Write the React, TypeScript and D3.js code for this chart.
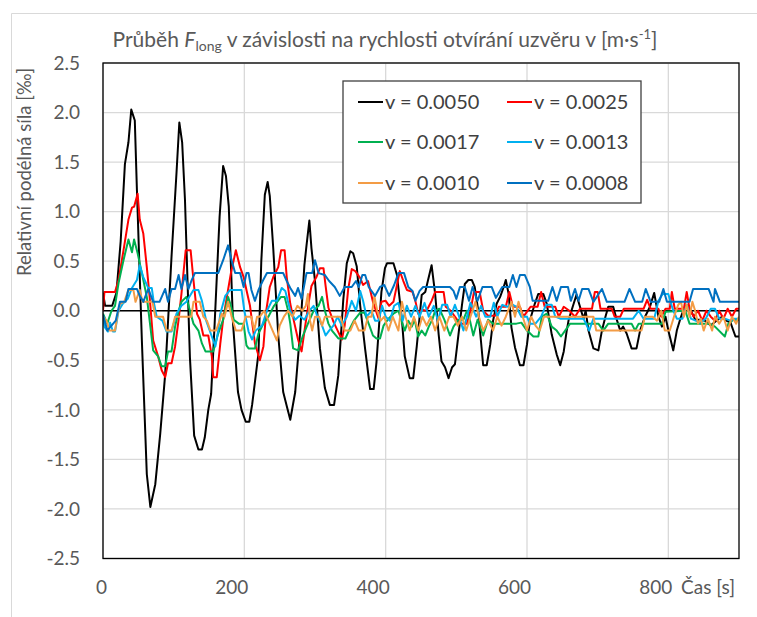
import React from "react";
import * as d3 from "d3";

const xTicks = [0, 200, 400, 600, 800];
const yTicks = [-2.5, -2.0, -1.5, -1.0, -0.5, 0.0, 0.5, 1.0, 1.5, 2.0, 2.5];
const seriesNames = ["v = 0.0050", "v = 0.0025", "v = 0.0017", "v = 0.0013", "v = 0.0010", "v = 0.0008"];
const seriesColors = ["#000000", "#ff0000", "#00b050", "#00b0f0", "#f39c45", "#0070c0"];

const s0050: [number, number][] = [[0,0.18],[3,0.05],[13,0.05],[19,0.18],[25,0.7],[31,1.48],[36,1.70],[40,2.03],[45,1.92],[48,1.22],[55,-0.3],[62,-1.65],[67,-1.98],[74,-1.75],[81,-1.24],[88,-0.64],[97,0.55],[104,1.39],[108,1.90],[112,1.70],[116,1.12],[123,-0.47],[129,-1.26],[135,-1.40],[140,-1.40],[144,-1.28],[149,-1.0],[153,-0.84],[158,-0.13],[165,0.95],[170,1.46],[174,1.36],[178,1.05],[184,-0.13],[191,-0.82],[196,-1.0],[202,-1.12],[207,-1.12],[211,-0.95],[220,-0.43],[224,0.5],[229,1.17],[233,1.30],[236,1.16],[241,0.62],[248,-0.25],[255,-0.82],[260,-0.96],[265,-1.10],[272,-0.82],[279,-0.21],[285,0.46],[288,0.66],[292,0.91],[295,0.63],[300,0.30],[307,-0.38],[314,-0.78],[321,-0.95],[327,-0.95],[333,-0.65],[340,0.11],[345,0.48],[350,0.60],[354,0.58],[359,0.45],[364,0.05],[371,-0.39],[378,-0.79],[383,-0.79],[387,-0.52],[394,0.19],[399,0.43],[402,0.48],[411,0.48],[416,0.36],[423,-0.09],[427,-0.46],[434,-0.68],[439,-0.68],[444,-0.36],[449,0.01],[451,0.16],[456,0.19],[460,0.31],[465,0.46],[470,0.17],[475,-0.24],[479,-0.51],[484,-0.57],[489,-0.68],[494,-0.57],[498,-0.54],[503,-0.24],[508,0.06],[512,0.27],[517,0.31],[522,0.31],[526,0.24],[531,0],[534,-0.24],[538,-0.55],[543,-0.55],[548,-0.34],[552,-0.1],[557,0.07],[562,0.14],[567,0.24],[570,0.31],[574,0.17],[578,-0.17],[583,-0.37],[590,-0.55],[595,-0.55],[600,-0.34],[604,-0.1],[611,0.07],[616,0.17],[623,0.17],[628,0.07],[635,-0.24],[642,-0.44],[647,-0.55],[652,-0.41],[656,-0.21],[659,-0.09],[666,0.07],[670,0.16],[675,0.04],[680,-0.08],[683,0.0],[687,-0.2],[694,-0.38],[701,-0.40],[706,-0.2],[711,-0.06],[715,0.04],[722,0.04],[727,-0.09],[732,-0.2],[736,-0.16],[741,-0.23],[748,-0.38],[755,-0.38],[760,-0.2],[767,-0.06],[774,0.04],[780,0.18],[786,-0.06],[791,-0.16],[796,-0.06],[800,-0.2],[807,-0.40],[812,-0.2],[817,-0.08],[821,0],[826,0.06],[832,0],[838,-0.09],[845,-0.09],[852,-0.1],[860,-0.15],[868,-0.1],[876,-0.06],[882,-0.1],[888,-0.12],[895,-0.26],[900,-0.26]];

const s0025: [number, number][] = [[0,0],[2,0.19],[17,0.19],[22,0.31],[29,0.61],[36,0.92],[41,1.04],[44,1.05],[49,1.18],[52,0.92],[57,0.78],[62,0.44],[66,0.14],[71,-0.30],[78,-0.46],[83,-0.60],[88,-0.67],[92,-0.53],[97,-0.53],[102,-0.36],[107,-0.09],[111,0.17],[117,0.61],[124,0.61],[128,0.31],[133,-0.03],[137,-0.09],[142,-0.25],[149,-0.25],[154,-0.46],[156,-0.67],[161,-0.67],[166,-0.33],[170,-0.09],[176,0.17],[181,0.38],[188,0.61],[194,0.44],[199,0.34],[203,0.21],[208,0.05],[215,-0.33],[222,-0.50],[227,-0.36],[231,0.0],[236,0.24],[241,0.34],[248,0.44],[252,0.61],[257,0.61],[260,0.34],[265,0.07],[270,-0.1],[276,-0.29],[281,-0.41],[286,-0.16],[291,0.08],[295,0.25],[302,0.34],[307,0.43],[312,0.43],[315,0.25],[319,0.03],[326,-0.11],[332,-0.2],[338,-0.29],[342,-0.15],[347,0.22],[352,0.42],[357,0.40],[364,0.33],[368,0.26],[375,0.30],[382,0.09],[390,-0.08],[394,0.09],[400,0.10],[405,0.05],[411,0.09],[416,0.26],[420,0.40],[425,0.30],[430,0.21],[438,0.19],[442,0.1],[446,-0.03],[451,0.01],[458,0.0],[465,0.1],[470,0.19],[482,0.19],[485,0.04],[492,0.0],[500,-0.08],[505,-0.13],[515,-0.13],[520,0.0],[525,0.19],[533,0.19],[538,0.0],[545,-0.05],[555,-0.05],[560,0.04],[570,0.04],[575,0.19],[580,0.04],[590,0.04],[595,-0.06],[605,0.04],[615,0.04],[620,0.19],[625,0.04],[640,0.04],[645,-0.06],[652,0.04],[660,0.0],[668,-0.06],[675,0.02],[692,0.02],[696,0.19],[700,0.19],[704,0.02],[720,0.02],[724,-0.06],[732,-0.06],[737,0.02],[765,0.02],[770,0.11],[775,0.02],[786,0.02],[790,-0.06],[796,0.02],[802,0.02],[805,0.19],[809,0.02],[822,0.02],[826,0.19],[830,0.02],[836,-0.06],[842,0.0],[848,-0.1],[854,0.0],[860,-0.06],[866,-0.1],[872,0.0],[878,-0.08],[884,0.02],[890,-0.06],[896,0.02],[900,0.02]];

const s0017: [number, number][] = [[0,-0.03],[6,-0.13],[12,0.0],[17,0.05],[22,0.28],[29,0.51],[36,0.72],[41,0.59],[44,0.72],[49,0.58],[55,0.38],[62,0.14],[66,-0.1],[71,-0.40],[78,-0.46],[83,-0.56],[88,-0.56],[92,-0.41],[97,-0.41],[102,-0.16],[107,0.0],[111,0.09],[118,0.14],[123,0.0],[128,-0.13],[135,-0.2],[140,-0.33],[145,-0.41],[156,-0.41],[163,-0.23],[170,-0.09],[177,0.14],[181,0.05],[185,-0.09],[192,-0.13],[199,-0.13],[203,-0.35],[206,-0.38],[215,-0.38],[220,-0.23],[227,-0.13],[234,-0.06],[242,0.05],[252,0.14],[257,0.14],[262,0.0],[265,-0.13],[269,-0.38],[276,-0.40],[283,-0.25],[290,-0.13],[298,0.0],[305,0.05],[310,0.14],[314,0.0],[319,-0.13],[324,-0.2],[333,-0.28],[343,-0.28],[348,-0.2],[355,-0.1],[364,-0.02],[370,-0.02],[377,-0.15],[382,-0.25],[387,-0.28],[392,-0.28],[397,-0.15],[404,-0.08],[411,-0.03],[418,0.0],[422,-0.09],[427,-0.2],[432,-0.1],[437,-0.16],[441,-0.09],[446,-0.26],[451,-0.2],[456,-0.25],[461,-0.16],[466,-0.09],[470,0.0],[476,0.02],[483,-0.09],[491,-0.25],[496,-0.16],[503,-0.09],[510,-0.09],[515,0.0],[519,-0.09],[524,-0.25],[530,-0.09],[538,-0.25],[545,-0.09],[552,-0.13],[585,-0.13],[592,-0.12],[600,-0.2],[609,-0.26],[616,-0.26],[621,-0.06],[628,-0.03],[635,-0.16],[642,-0.2],[648,-0.26],[654,-0.2],[661,-0.13],[701,-0.13],[708,-0.2],[715,-0.13],[748,-0.13],[753,-0.2],[758,-0.13],[791,-0.13],[796,-0.01],[824,0.0],[830,-0.13],[858,-0.13],[866,-0.16],[880,-0.26],[885,-0.13],[892,-0.09],[900,-0.09]];

const s0013: [number, number][] = [[0,-0.06],[2,-0.16],[7,-0.21],[10,-0.12],[14,-0.21],[17,-0.21],[22,0.0],[28,0.07],[35,0.12],[41,0.23],[48,0.31],[52,0.46],[57,0.34],[64,0.23],[69,0.23],[72,0.08],[76,-0.06],[84,-0.1],[90,-0.21],[97,-0.21],[104,-0.03],[111,0.05],[118,0.09],[128,0.21],[135,0.21],[140,0.10],[146,-0.10],[154,-0.26],[159,-0.36],[163,-0.20],[166,-0.03],[173,0.15],[180,0.21],[196,0.21],[200,0.0],[206,-0.21],[211,-0.29],[216,-0.20],[225,-0.15],[232,0.0],[239,0.10],[246,0.10],[253,0.23],[258,0.20],[265,0.0],[272,-0.09],[278,-0.05],[285,-0.09],[292,0.0],[298,0.05],[303,-0.05],[310,-0.15],[315,-0.25],[320,-0.2],[326,-0.15],[332,-0.06],[338,-0.15],[345,-0.06],[352,0.1],[358,0.0],[364,0.2],[368,0.1],[373,-0.06],[380,0.0],[385,-0.1],[390,-0.1],[395,0.05],[400,-0.06],[406,-0.1],[412,0.05],[418,0.08],[424,-0.1],[430,0.05],[436,-0.06],[442,0.05],[448,-0.06],[455,0.08],[461,-0.06],[468,0.05],[474,-0.1],[480,0.06],[487,0.06],[492,-0.06],[498,0.06],[504,-0.06],[510,-0.2],[515,-0.06],[520,0.08],[528,-0.06],[535,0.05],[541,-0.06],[548,-0.06],[553,0.08],[558,-0.06],[565,0.06],[572,0.04],[580,0.06],[585,0.04],[592,-0.06],[600,-0.06],[604,-0.13],[612,-0.13],[620,-0.06],[627,0.06],[635,0.06],[640,-0.06],[647,-0.08],[680,-0.08],[688,-0.2],[694,-0.08],[750,-0.08],[758,0.0],[765,-0.08],[780,-0.08],[786,0.1],[792,0.17],[800,0.17],[806,0.02],[812,-0.08],[820,-0.08],[826,0.06],[832,-0.08],[845,-0.12],[853,-0.08],[860,0.02],[866,0.02],[872,-0.08],[880,-0.08],[888,-0.1],[894,-0.08],[900,-0.08]];

const s0010: [number, number][] = [[0,-0.06],[5,-0.1],[9,-0.2],[17,-0.2],[20,-0.06],[24,0.07],[30,0.09],[36,0.21],[43,0.21],[46,0.09],[52,0.21],[56,0.09],[70,0.09],[74,-0.06],[85,-0.06],[90,-0.2],[97,-0.2],[102,-0.06],[125,-0.06],[128,0.09],[137,0.09],[142,-0.06],[147,-0.1],[152,-0.2],[160,-0.2],[165,-0.1],[168,-0.03],[172,-0.06],[177,0.09],[182,-0.06],[188,-0.2],[196,-0.2],[202,-0.06],[210,-0.06],[214,-0.2],[218,-0.06],[222,-0.06],[228,0.0],[234,-0.1],[240,-0.2],[246,-0.3],[250,-0.15],[256,-0.06],[262,0.0],[268,-0.06],[275,0.05],[282,0.0],[287,0.05],[290,0.17],[293,-0.1],[296,-0.2],[300,-0.06],[306,-0.06],[310,-0.15],[314,-0.06],[336,-0.06],[342,-0.2],[350,-0.2],[356,-0.1],[362,-0.2],[370,-0.2],[375,-0.06],[380,-0.06],[384,0.15],[388,0.0],[393,-0.1],[398,-0.06],[404,-0.2],[410,-0.06],[418,-0.2],[423,0.09],[428,-0.06],[434,-0.2],[440,-0.06],[446,-0.2],[452,-0.06],[458,-0.15],[464,-0.06],[470,-0.2],[476,-0.06],[483,-0.2],[490,-0.06],[496,-0.06],[502,-0.15],[508,-0.06],[514,-0.2],[520,-0.06],[527,0.09],[532,-0.06],[538,-0.2],[545,-0.1],[552,-0.2],[558,-0.06],[564,-0.15],[570,-0.06],[578,0.09],[583,-0.06],[588,0.09],[594,-0.06],[600,-0.2],[606,-0.06],[612,-0.15],[618,-0.2],[624,-0.06],[694,-0.06],[698,-0.2],[762,-0.2],[767,-0.06],[778,-0.06],[784,-0.1],[790,0.0],[795,-0.2],[802,-0.2],[808,-0.06],[814,0.06],[818,0.09],[822,-0.06],[826,0.06],[830,-0.06],[834,0.09],[838,0.0],[842,-0.13],[846,-0.08],[850,-0.2],[856,-0.08],[862,-0.2],[866,-0.06],[872,-0.13],[878,-0.06],[884,-0.2],[890,-0.06],[896,-0.13],[900,-0.06]];

const s0008: [number, number][] = [[0,-0.04],[6,-0.2],[12,-0.15],[18,-0.1],[24,0.09],[32,0.09],[36,0.22],[48,0.22],[52,0.15],[57,0.09],[64,0.22],[71,0.09],[80,0.09],[88,0.22],[92,0.09],[97,0.22],[102,0.22],[107,0.36],[111,0.22],[116,0.36],[121,0.22],[125,0.3],[130,0.38],[163,0.38],[170,0.51],[177,0.66],[182,0.51],[187,0.38],[194,0.38],[199,0.24],[203,0.38],[206,0.38],[210,0.21],[215,0.1],[220,0.21],[226,0.3],[232,0.38],[255,0.38],[260,0.3],[265,0.23],[272,0.15],[276,0.23],[281,0.12],[284,0.23],[288,0.38],[296,0.38],[300,0.51],[305,0.38],[314,0.36],[320,0.3],[328,0.24],[335,0.15],[342,0.24],[352,0.24],[358,0.3],[362,0.24],[367,0.36],[371,0.36],[376,0.24],[385,0.15],[392,0.24],[398,0.26],[405,0.15],[412,0.26],[418,0.38],[426,0.38],[432,0.24],[438,0.2],[442,0.1],[448,0.2],[453,0.24],[491,0.24],[496,0.2],[500,0.12],[505,0.24],[512,0.24],[518,0.1],[523,0.24],[530,0.1],[537,0.24],[550,0.24],[556,0.13],[565,0.24],[575,0.24],[580,0.36],[585,0.24],[590,0.36],[597,0.36],[604,0.24],[608,0.1],[630,0.1],[636,0.24],[642,0.1],[648,0.24],[658,0.24],[662,0.1],[668,0.22],[673,0.1],[678,0.22],[687,0.22],[694,0.09],[706,0.22],[713,0.09],[738,0.09],[745,0.22],[753,0.09],[763,0.09],[768,0.22],[775,0.09],[787,0.09],[793,0.22],[798,0.09],[830,0.09],[835,0.22],[857,0.22],[864,0.09],[866,0.22],[873,0.09],[900,0.09]];

const allSeries = [s0050, s0025, s0017, s0013, s0010, s0008];

const W = 757;
const H = 617;
const PL = 103, PR = 739, PT = 63, PB = 558.5;
const FONT = "Lato, 'Open Sans', sans-serif";
const TXT = "#595959";

export default function App() {
  const x = d3.scaleLinear().domain([0, 900]).range([PL, PR]);
  const y = d3.scaleLinear().domain([-2.5, 2.5]).range([PB, PT]);
  const line = d3.line<[number, number]>().x(d => x(d[0])).y(d => y(d[1]));
  return (
    <svg width={W} height={H} style={{ position: "absolute", left: 0, top: 0, background: "#fff" }} fontFamily={FONT}>
      <rect x={0} y={0} width={W} height={H} fill="#fff" />
      <path d={`M11.5,${H} V13.5 H${W}`} fill="none" stroke="#d9d9d9" strokeWidth={1} />
      <defs>
        <clipPath id="plotclip">
          <rect x={PL} y={PT} width={PR - PL} height={PB - PT} />
        </clipPath>
      </defs>
      {yTicks.map(t => (
        <line key={"gy" + t} x1={PL} x2={PR} y1={y(t)} y2={y(t)} stroke="#d9d9d9" strokeWidth={1.3} />
      ))}
      {xTicks.map(t => (
        <line key={"gx" + t} x1={x(t)} x2={x(t)} y1={PT} y2={PB} stroke="#d9d9d9" strokeWidth={1.3} />
      ))}
      <line x1={PL} x2={PR} y1={y(0)} y2={y(0)} stroke="#000" strokeWidth={1.3} />
      <g clipPath="url(#plotclip)">
        {allSeries.map((s, i) => (
          <path key={i} d={line(s) || ""} fill="none" stroke={seriesColors[i]} strokeWidth={2} strokeLinejoin="round" />
        ))}
      </g>
      <rect x={PL} y={PT} width={PR - PL} height={PB - PT} fill="none" stroke="#000" strokeWidth={1.3} />
      {yTicks.map(t => (
        <text key={"ty" + t} x={80} y={y(t)} dy="0.35em" textAnchor="end" fontSize={19} fill={TXT}>
          {t.toFixed(1)}
        </text>
      ))}
      {xTicks.map(t => (
        <text key={"tx" + t} x={x(t) + 4} y={594} textAnchor="end" fontSize={19} fill={TXT}>
          {t}
        </text>
      ))}
      <text x={681} y={594} fontSize={19} fill={TXT}>Čas [s]</text>
      <text transform={`translate(31,172) rotate(-90)`} textAnchor="middle" fontSize={18.5} fill={TXT}>
        Relativní podélná síla [‰]
      </text>
      <text x={385} y={47} textAnchor="middle" fontSize={21} fill={TXT}>
        <tspan>Průběh </tspan>
        <tspan fontStyle="italic">F</tspan>
        <tspan fontSize={14} dy={4}>long</tspan>
        <tspan dy={-4}> v závislosti na rychlosti otvírání uzvěru v [m·s</tspan>
        <tspan fontSize={13} dy={-8}>-1</tspan>
        <tspan dy={8}>]</tspan>
      </text>
      <rect x={343} y={81} width={298} height={122} fill="#fff" stroke="#404040" strokeWidth={1.3} />
      {seriesNames.map((n, i) => {
        const col = i % 2;
        const row = Math.floor(i / 2);
        const lx = col === 0 ? 358 : 507;
        const ly = [102, 142, 183][row];
        return (
          <g key={n}>
            <line x1={lx} x2={lx + 25} y1={ly} y2={ly} stroke={seriesColors[i]} strokeWidth={2} />
            <text x={lx + 27} y={ly} dy="0.35em" fontSize={20} fill="#404040">{n}</text>
          </g>
        );
      })}
    </svg>
  );
}
